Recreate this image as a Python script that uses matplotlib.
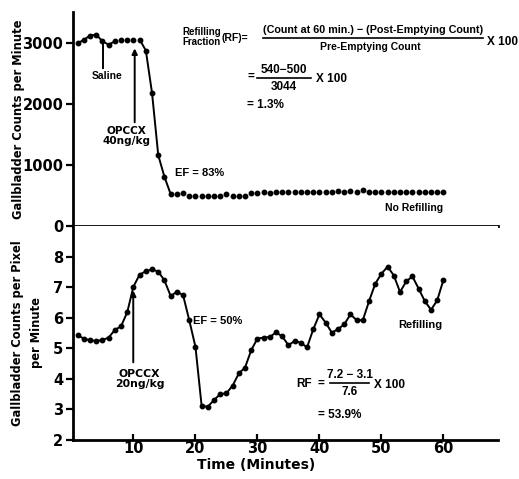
import matplotlib
matplotlib.use("Agg")
import matplotlib.pyplot as plt
from matplotlib.lines import Line2D

# ---------------- data ----------------
minutes = list(range(1, 61))
top_counts = [2990, 3044, 3115, 3130, 3020, 2967, 3020, 3050, 3050, 3050,
              3050, 2870, 2174, 1158, 804, 522, 522, 540, 490, 490,
              490, 490, 490, 490, 520, 490, 490, 490, 543, 540,
              550, 540, 550, 560, 550, 550, 550, 560, 550, 550,
              560, 560, 580, 550, 580, 560, 590, 560, 560, 560,
              560, 550, 550, 550, 550, 550, 550, 550, 550, 550]
bottom_counts = [5.42, 5.32, 5.26, 5.24, 5.27, 5.35, 5.60, 5.72, 6.18, 7.02,
                 7.41, 7.52, 7.58, 7.51, 7.22, 6.71, 6.85, 6.74, 5.92, 5.05,
                 3.11, 3.09, 3.31, 3.50, 3.53, 3.78, 4.18, 4.37, 4.94, 5.32,
                 5.35, 5.37, 5.52, 5.39, 5.10, 5.24, 5.18, 5.03, 5.62, 6.11,
                 5.84, 5.51, 5.63, 5.78, 6.11, 5.92, 5.92, 6.54, 7.11, 7.44,
                 7.67, 7.38, 6.84, 7.19, 7.35, 6.95, 6.54, 6.26, 6.57, 7.24]
top_yticks = [0, 1000, 2000, 3000]
bottom_yticks = [2, 3, 4, 5, 6, 7, 8]
bottom_xticks = [10, 20, 30, 40, 50, 60]

W, H = 519, 479
fig = plt.figure(figsize=(W / 100, H / 100), dpi=100)
fig.patch.set_facecolor("white")
renderer = fig.canvas.get_renderer()

def fbox(x0, y0, x1, y1):
    return [x0 / W, 1 - y1 / H, (x1 - x0) / W, (y1 - y0) / H]

ax1 = fig.add_axes(fbox(73, 12, 498, 226))
ax2 = fig.add_axes(fbox(73, 226, 498, 440))

XLIM = (0.25, 68.8)
K = "black"
tick_font = dict(family="DejaVu Sans", weight="bold", size=10.5)
NARROW = ["Liberation Sans Narrow", "DejaVu Sans Condensed", "Liberation Sans", "DejaVu Sans"]
note = dict(family=NARROW, weight="bold", color=K)
NS = 7.5   # note font size
FS = 8.5   # formula font size

def fit(t, width):
    bb = t.get_window_extent(renderer)
    if bb.width > 0:
        t.set_fontsize(t.get_fontsize() * width / bb.width)
    return t

for ax in (ax1, ax2):
    ax.set_xlim(*XLIM)
    for s in ("top", "right"):
        ax.spines[s].set_visible(False)
    for s in ("left", "bottom"):
        ax.spines[s].set_linewidth(2.0)
        ax.spines[s].set_color(K)
    ax.tick_params(axis="y", direction="out", length=5, width=1.6, pad=2)

# ---- top panel ----
ax1.set_ylim(0, 3500)
ax1.set_yticks(top_yticks)
ax1.set_yticklabels([str(v) for v in top_yticks], fontdict=tick_font)
ax1.set_xticks([])
ax1.plot(minutes, top_counts, linestyle="none", marker="o", ms=3.2, color=K)
ax1.plot(minutes[:7], top_counts[:7], color=K, lw=1.4)
ax1.plot(minutes[10:16], top_counts[10:16], color=K, lw=1.4)
ax1.set_ylabel("Gallbladder Counts per Minute", fontsize=8.3, weight="bold")
ax1.yaxis.set_label_coords(-0.113, 0.5)

ax1.plot([5.03, 5.03], [2984, 2576], color=K, lw=1.4)
ax1.text(5.7, 2460, "Saline", ha="center", va="center", fontsize=NS, **note)
ax1.annotate("", xy=(10.2, 2950), xytext=(10.2, 1650),
             arrowprops=dict(arrowstyle="-|>", color=K, lw=1.4, mutation_scale=8))
fit(ax1.text(8.9, 1640, "OPCCX\n40ng/kg", ha="center", va="top", fontsize=7.5,
             linespacing=1.0, color=K, family="DejaVu Sans", weight="bold"), 48)
ax1.text(16.7, 860, "EF = 83%", ha="left", va="center", fontsize=8, **note)
ax1.text(60.0, 290, "No Refilling", ha="right", va="center", fontsize=NS, **note)

# ---- bottom panel ----
ax2.set_ylim(2, 9)
ax2.set_yticks(bottom_yticks)
ax2.set_yticklabels([str(v) for v in bottom_yticks], fontdict=tick_font)
ax2.set_xticks(bottom_xticks)
ax2.set_xticklabels([str(v) for v in bottom_xticks], fontdict=tick_font)
ax2.tick_params(axis="x", direction="in", length=4, width=1.6, pad=1)
ax2.plot(minutes, bottom_counts, color=K, lw=1.4, marker="o", ms=3.2)
ax2.set_ylabel("Gallbladder Counts per Pixel\nper Minute", fontsize=8.3, weight="bold",
               linespacing=1.6)
ax2.yaxis.set_label_coords(-0.07, 0.5)
ax2.set_xlabel("Time (Minutes)", fontsize=10, weight="bold")
ax2.xaxis.set_label_coords(0.43, -0.083)

ax2.annotate("", xy=(9.97, 6.98), xytext=(9.97, 4.45),
             arrowprops=dict(arrowstyle="-|>", color=K, lw=1.4, mutation_scale=8))
fit(ax2.text(11.0, 4.33, "OPCCX\n20ng/kg", ha="center", va="top", fontsize=7.5,
             linespacing=1.0, color=K, family="DejaVu Sans", weight="bold"), 50)
ax2.text(19.6, 5.9, "EF = 50%", ha="left", va="center", fontsize=8, **note)
ax2.text(56.3, 5.75, "Refilling", ha="center", va="center", fontsize=8, **note)

# ---- formula texts (figure pixel coordinates) ----
def ftxt(x, y, s, width=None, ha="left", size=NS, **kw):
    t = fig.text(x / W, 1 - y / H, s, ha=ha, va="center", fontsize=size, **note, **kw)
    if width:
        fit(t, width)
    return t

def fbar(x0, x1, y):
    fig.add_artist(Line2D([x0 / W, x1 / W], [1 - y / H, 1 - y / H],
                          color=K, lw=1.2, transform=fig.transFigure))

ftxt(182, 37, "Refilling\nFraction", size=7, linespacing=1.1)
ftxt(221, 38, "(RF)=", size=7.5)
ftxt(373, 30, "(Count at 60 min.) \u2212 (Post-Emptying Count)", width=220, ha="center")
fbar(263, 483, 38)
ftxt(370, 47, "Pre-Emptying Count", size=NS, ha="center")
ftxt(487, 42, "X 100", size=FS)

ftxt(247, 77, "=", size=FS)
ftxt(284, 70, "540\u2212500", size=FS, ha="center")
fbar(257, 311, 78)
ftxt(284, 87, "3044", size=FS, ha="center")
ftxt(316, 79, "X 100", size=FS)
ftxt(247, 105, "= 1.3%", size=FS)

ftxt(296, 384, "RF", size=FS)
ftxt(318, 384, "=", size=FS)
ftxt(350, 375, "7.2 \u2212 3.1", size=FS, ha="center")
fbar(330, 369, 383)
ftxt(350, 392, "7.6", size=FS, ha="center")
ftxt(374, 385, "X 100", size=FS)
ftxt(318, 415, "= 53.9%", size=FS)

fig.savefig("out.png", dpi=100, facecolor="white")
